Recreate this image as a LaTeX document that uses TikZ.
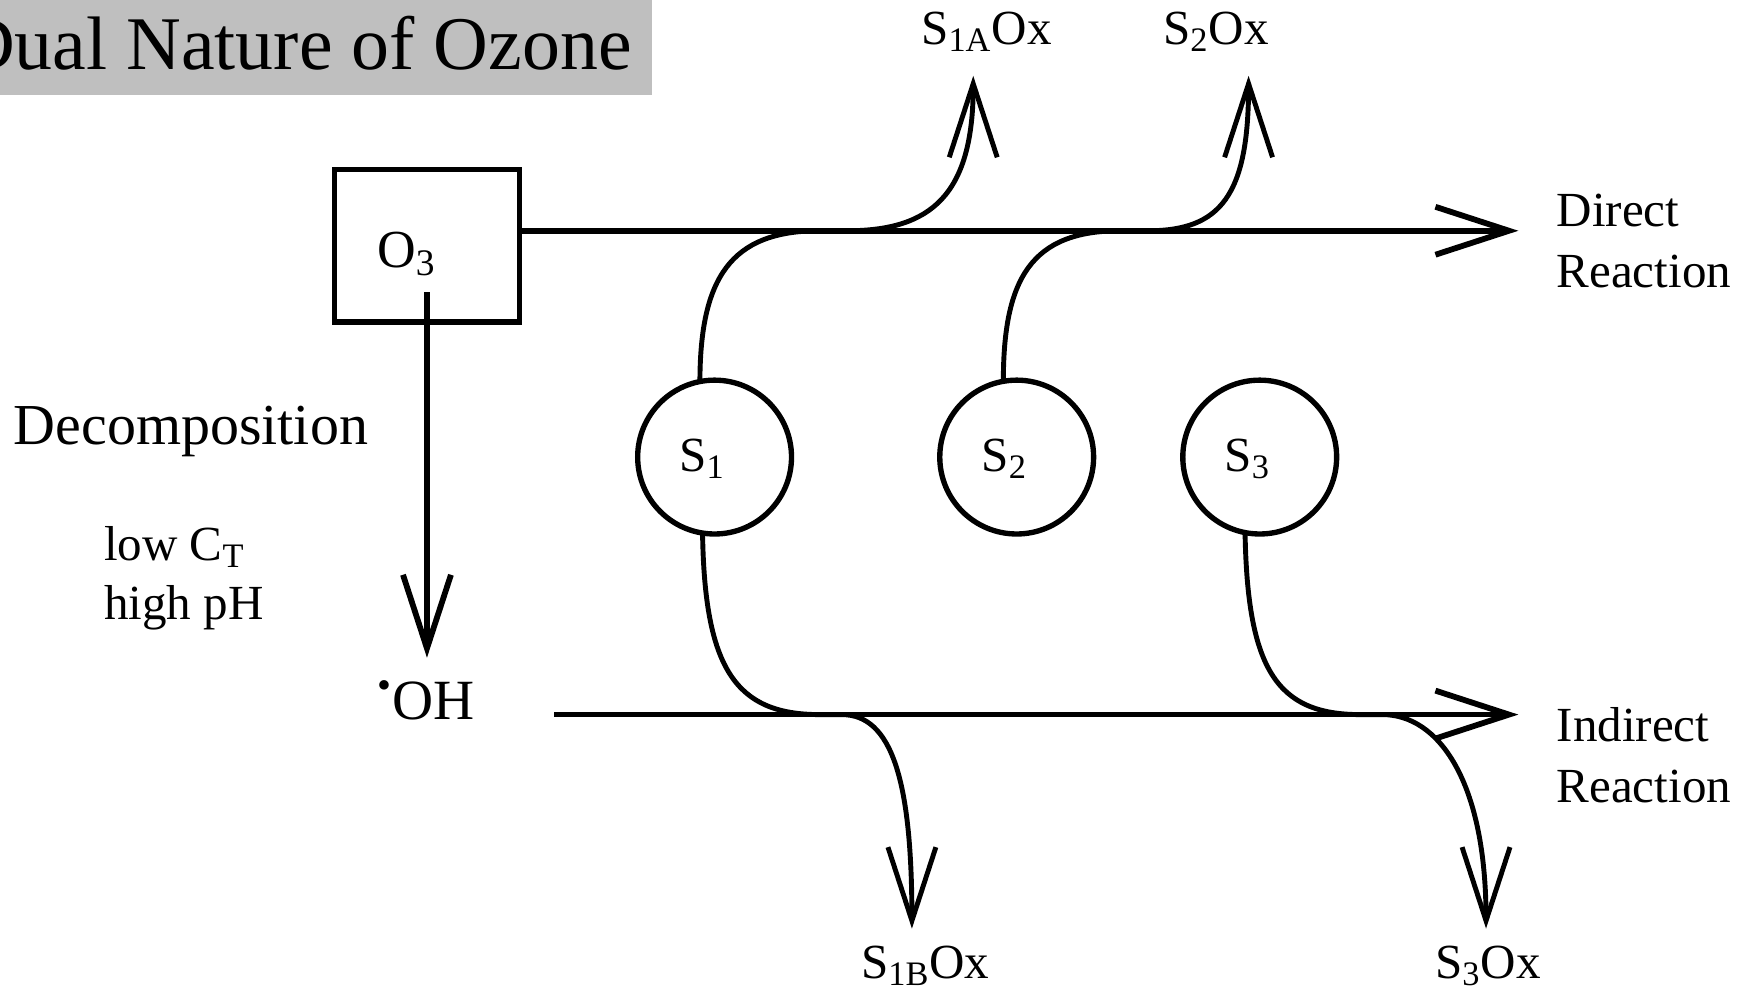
\documentclass[tikz,border=0pt]{standalone}
\usepackage{fontspec}
\setmainfont{Liberation Serif}
\usetikzlibrary{arrows.meta}

\begin{document}
\begin{tikzpicture}[x=0.5pt,y=-0.5pt,
  lbl/.style={inner sep=0,font=\fontsize{22}{27.5}\selectfont},
  flow/.style={line width=2.6pt,-{Straight Barb[length=33pt,width=21.5pt]}},
  branch/.style={line width=2.2pt,-{Straight Barb[length=33pt,width=21.5pt]}},
  subst/.style={draw,circle,line width=2.4pt,minimum size=69pt,inner sep=0,outer sep=0}]
\useasboundingbox (0,0) rectangle (1568,888);
% title bar
\fill[black!25] (0,0) rectangle (585,85);
\node[anchor=base east,inner sep=0,font=\fontsize{34}{40}\selectfont] (title) at (567,62) {Dual Nature of Ozone};
% ozone box and the two routes
\node[draw,line width=2.6pt,minimum width=83pt,minimum height=68.5pt,outer sep=0] (o3) at (383,220.5) {};
\node[lbl,anchor=base west,font=\fontsize{24}{28}\selectfont] (o3txt) at (338,240) {O\textsubscript{3}};
\coordinate (dtip) at (1362,207);
\coordinate (o3src) at (383,262);
\coordinate (ohtip) at (383,590);
\coordinate (istart) at (497,641);
\coordinate (itip) at (1362,641);
\draw[flow] (o3.east |- dtip) -- (dtip);
\draw[flow] (o3src) -- (ohtip);
\draw[flow] (istart) -- (itip);
\node[lbl,anchor=base west,align=left] (direct) at (1396,258) {Direct\\Reaction};
\node[lbl,anchor=base west,align=left] (indirect) at (1396,720) {Indirect\\Reaction};
\node[anchor=base west,inner sep=0,font=\fontsize{26}{30}\selectfont] (decomp) at (12,399) {Decomposition};
\node[lbl,anchor=base west,align=left,font=\fontsize{22}{26.5}\selectfont] (cond) at (93,556) {low C\textsubscript{T}\\high pH};
\node[anchor=base west,inner sep=0,font=\fontsize{25.5}{30}\selectfont] (oh) at (338,645) {\textsuperscript{•}OH};
% solutes
\foreach \i/\x in {1/641,2/912,3/1130} {
  \node[subst] (s\i) at (\x,410) {};
  \node[lbl,anchor=base west] (s\i t) at (\x-32,423) {S\textsubscript{\i}};
}
\coordinate (a1tip) at (873,68);
\coordinate (a2tip) at (1120,68);
\coordinate (b1tip) at (818,833);
\coordinate (b3tip) at (1333,833);
\draw[branch] (s1.101) .. controls (628,250) and (655,207) .. (735,207) -- (760,207) .. controls (835,207) and (873,175) .. (a1tip);
\draw[branch] (s2.100) .. controls (900,250) and (925,207) .. (1005,207) -- (1030,207) .. controls (1095,207) and (1120,175) .. (a2tip);
\draw[branch] (s1.-99) .. controls (632,600) and (660,641) .. (735,641) -- (755,641) .. controls (800,641) and (818,700) .. (b1tip);
\draw[branch] (s3.-101) .. controls (1119,600) and (1145,641) .. (1220,641) -- (1240,641) .. controls (1290,641) and (1333,700) .. (b3tip);
\node[lbl,anchor=base west] (s1aox) at (826,40) {S\textsubscript{1A}Ox};
\node[lbl,anchor=base west] (s2ox) at (1043,40) {S\textsubscript{2}Ox};
\node[lbl,anchor=base west] (s1box) at (772,878) {S\textsubscript{1B}Ox};
\node[lbl,anchor=base west] (s3ox) at (1287,878) {S\textsubscript{3}Ox};
\end{tikzpicture}
\end{document}
